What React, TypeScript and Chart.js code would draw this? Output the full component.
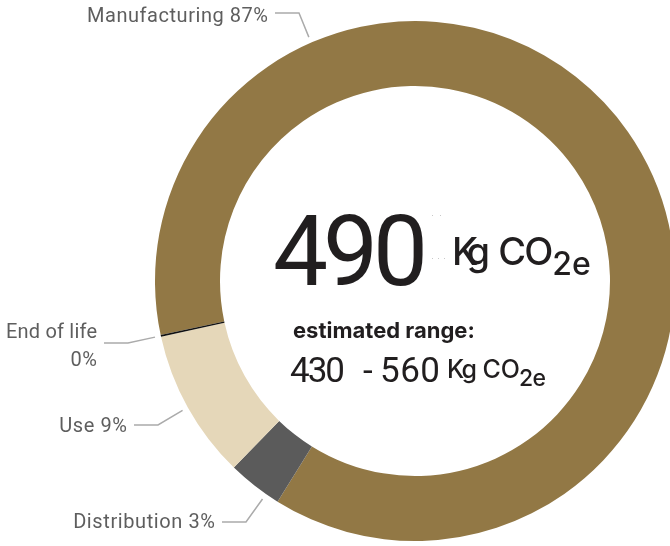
import { useEffect, useRef } from "react";
import { Chart, registerables, ArcElement } from "chart.js";

Chart.register(...registerables);

// lifecycle shares of the footprint (percent)
const categories = ["Manufacturing", "Distribution", "Use", "End of life"];
const shares = [87.2, 3.4, 9.3, 0.1];
const shareLabels = ["87%", "3%", "9%", "0%"];
const sliceColors = ["#927845", "#5b5b5b", "#e5d7b9", "#111111"];

const totalValue = "490";
const rangeLow = "430";
const rangeHigh = "560";

// where the leader lines bend and where the label baselines sit
const labelLayout = [
  { frac: 0.25, elbowX: 299, elbowY: 13, lines: [{ y: 22, w: 181 }] },
  { frac: 0.25, elbowX: 246, elbowY: 522, lines: [{ y: 528, w: 142 }] },
  { frac: 0.5, elbowX: 158, elbowY: 425, lines: [{ y: 432, w: 70 }] },
  { frac: 0.5, elbowX: 128, elbowY: 343, lines: [{ y: 338, w: 91 }, { y: 366, w: 30 }] },
];

const ROBOTO = "Roboto, 'Liberation Sans', sans-serif";
const INTER = "Inter, 'Liberation Sans', sans-serif";

// draws text so that its width comes close to `width`, via letter spacing
function fitText(
  ctx: CanvasRenderingContext2D,
  text: string,
  x: number,
  baseline: number,
  font: string,
  color: string,
  width?: number,
  maxSpacing = 1,
  alignRight = false
) {
  ctx.font = font;
  ctx.fillStyle = color;
  ctx.textAlign = "left";
  ctx.textBaseline = "alphabetic";
  (ctx as any).letterSpacing = "0px";
  const w0 = ctx.measureText(text).width;
  let s = 0;
  if (width && text.length > 1) {
    s = Math.min(maxSpacing, (width - w0) / (text.length - 1));
  }
  const actual = w0 + s * (text.length - 1);
  (ctx as any).letterSpacing = s + "px";
  ctx.fillText(text, alignRight ? x - actual : x, baseline);
  (ctx as any).letterSpacing = "0px";
  return actual;
}

// "Kg CO2e" with the "2e" dropped below the baseline
function drawUnit(
  ctx: CanvasRenderingContext2D,
  x: number,
  baseline: number,
  size: number,
  subSize: number,
  drop: number,
  widths: number[],
  color: string
) {
  const wKg = fitText(ctx, "Kg", x, baseline, `500 ${size}px ${INTER}`, color, widths[0], 0);
  const xCO = x + wKg + size * 0.22;
  const wCO = fitText(ctx, "CO", xCO, baseline, `500 ${size}px ${INTER}`, color, widths[1], 0);
  fitText(ctx, "2e", xCO + wCO - 1, baseline + drop, `500 ${subSize}px ${INTER}`, color, widths[2], 0);
}

const annotations = {
  id: "annotations",
  afterDraw(chart: Chart) {
    const ctx = chart.ctx;
    const meta = chart.getDatasetMeta(0);
    const arcs = meta.data as ArcElement[];
    ctx.save();

    // leader lines and labels
    arcs.forEach((arc, i) => {
      const p = arc.getProps(["x", "y", "startAngle", "endAngle", "outerRadius"], true) as any;
      const lay = labelLayout[i];
      const a = p.startAngle + lay.frac * (p.endAngle - p.startAngle);
      const r = p.outerRadius + 6;
      const tipX = p.x + Math.cos(a) * r;
      const tipY = p.y + Math.sin(a) * r;
      ctx.strokeStyle = "#ababab";
      ctx.lineWidth = 1.5;
      ctx.beginPath();
      ctx.moveTo(tipX, tipY);
      ctx.lineTo(lay.elbowX, lay.elbowY);
      ctx.lineTo(lay.elbowX - 24, lay.elbowY);
      ctx.stroke();

      const texts =
        lay.lines.length > 1
          ? [categories[i], shareLabels[i]]
          : [categories[i] + " " + shareLabels[i]];
      texts.forEach((t, j) => {
        const ln = lay.lines[j];
        fitText(ctx, t, lay.elbowX - 31, ln.y, `400 20px ${ROBOTO}`, "#5e5e5e", ln.w, 0.6, true);
      });
    });

    // centre text, placed relative to the ring centre
    const c = arcs[0].getProps(["x", "y"], true) as any;
    const cx = c.x;
    const cy = c.y;
    const dark = "#211e1f";
    fitText(ctx, totalValue, cx - 142, cy + 4, `400 98px ${ROBOTO}`, dark, 155);
    drawUnit(ctx, cx + 37, cy - 16, 38, 32, 10, [38, 55, 39], dark);

    // faint dotted guides next to the big number
    ctx.fillStyle = "#c8c8c8";
    [0, 8].forEach((d) => ctx.fillRect(cx + 17 + d, cy - 66, 1, 1));
    [0, 6, 12].forEach((d) => ctx.fillRect(cx + 17 + d, cy - 23, 1, 1));

    fitText(ctx, "estimated range:", cx - 122, cy + 57, `700 22px ${INTER}`, dark, 195, 0);
    fitText(ctx, rangeLow, cx - 125, cy + 101, `400 35px ${ROBOTO}`, dark, 55, 0.5);
    fitText(ctx, "-", cx - 52, cy + 101, `400 35px ${ROBOTO}`, dark);
    fitText(ctx, rangeHigh, cx - 35, cy + 101, `400 35px ${ROBOTO}`, dark, 63, 0.5);
    drawUnit(ctx, cx + 32, cy + 97, 25, 23, 8, [30, 40, 27], dark);

    ctx.restore();
  },
};

export default function App() {
  const canvasRef = useRef<HTMLCanvasElement>(null);
  const chartRef = useRef<Chart | null>(null);

  useEffect(() => {
    if (!canvasRef.current) return;
    if (chartRef.current) chartRef.current.destroy();

    chartRef.current = new Chart(canvasRef.current, {
      type: "doughnut",
      data: {
        labels: categories,
        datasets: [
          {
            data: shares,
            backgroundColor: sliceColors,
            borderWidth: 0,
          },
        ],
      },
      options: {
        responsive: false,
        animation: false,
        cutout: "75%",
        rotation: 258,
        layout: { padding: { left: 155, top: 21, right: 15, bottom: 5 } },
        plugins: {
          legend: { display: false },
          tooltip: { enabled: false },
        },
      },
      plugins: [annotations],
    });

    return () => {
      if (chartRef.current) {
        chartRef.current.destroy();
        chartRef.current = null;
      }
    };
  }, []);

  return (
    <div
      style={{
        position: "absolute",
        left: 0,
        top: 0,
        width: 670,
        height: 546,
        overflow: "hidden",
        background: "#fff",
      }}
    >
      <canvas ref={canvasRef} width={690} height={546} />
    </div>
  );
}
